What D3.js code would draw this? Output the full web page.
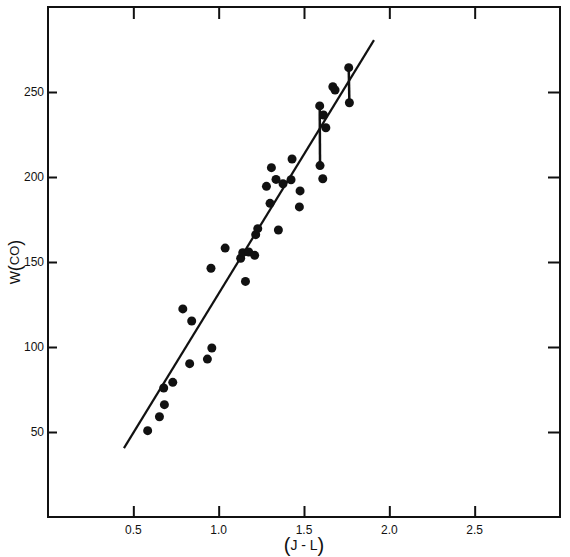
<!DOCTYPE html>
<html>
<head>
<meta charset="utf-8">
<script src="https://cdn.jsdelivr.net/npm/d3@7"></script>
<style>
  body { margin: 0; background: #fff; }
  svg { display: block; font-family: "Liberation Sans", "DejaVu Sans", sans-serif; }
  .tick-label { font-size: 12px; fill: #111; }
</style>
</head>
<body>
<div id="chart"></div>
<script>
// (J-L) colour index vs W(CO)
const jl = [0.584, 0.653, 0.682, 0.678, 0.731, 0.83, 0.842, 0.79, 0.934, 0.96,
            0.955, 1.038, 1.157, 1.129, 1.141, 1.176, 1.211, 1.217, 1.229, 1.35,
            1.301, 1.28, 1.309, 1.336, 1.377, 1.424, 1.43, 1.477, 1.473, 1.594,
            1.61, 1.592, 1.614, 1.628, 1.669, 1.682, 1.762, 1.766];
const wco = [50.8, 59, 66.1, 75.9, 79.2, 90.2, 115.3, 122.4, 92.9, 99.4,
             146.3, 158.2, 138.6, 152.2, 155.5, 155.9, 153.9, 166.1, 169.6, 168.8,
             184.5, 194.5, 205.5, 198.6, 196, 198.4, 210.6, 191.8, 182.4, 206.7,
             199, 241.8, 236.5, 229, 253.1, 251.2, 264.3, 243.7];

// pairs of measurements of the same star joined by a bar (indices)
const pairs = [[29, 31], [36, 37]];

// fitted line end points
const fitX = [0.445, 1.91];
const fitY = [40.5, 280.5];

const xTicks = [0.5, 1.0, 1.5, 2.0, 2.5];
const yTicks = [50, 100, 150, 200, 250];

const W = 570, H = 557;
const margin = { top: 7, right: 10, bottom: 40, left: 48 };
const width = W - margin.left - margin.right;
const height = H - margin.top - margin.bottom;

const svg = d3.select("#chart").append("svg")
    .attr("width", W)
    .attr("height", H);

const g = svg.append("g")
    .attr("transform", "translate(" + margin.left + "," + margin.top + ")");

const xScale = d3.scaleLinear().domain([0, 3.0]).range([0, width]);
const yScale = d3.scaleLinear().domain([0, 300]).range([height, 0]);

// frame
g.append("rect")
    .attr("width", width)
    .attr("height", height)
    .attr("fill", "none")
    .attr("stroke", "#111")
    .attr("stroke-width", 2);

// inward ticks on all four sides
g.append("g").attr("transform", "translate(0," + height + ")")
    .call(d3.axisBottom(xScale).tickValues(xTicks).tickSizeInner(-11).tickSizeOuter(0).tickFormat(""));
g.append("g")
    .call(d3.axisTop(xScale).tickValues(xTicks).tickSizeInner(-12).tickSizeOuter(0).tickFormat(""));
g.append("g")
    .call(d3.axisLeft(yScale).tickValues(yTicks).tickSizeInner(-9).tickSizeOuter(0).tickFormat(""));
g.append("g").attr("transform", "translate(" + width + ",0)")
    .call(d3.axisRight(yScale).tickValues(yTicks).tickSizeInner(-12).tickSizeOuter(0).tickFormat(""));

g.selectAll(".domain").remove();
g.selectAll(".tick line").attr("stroke", "#111").attr("stroke-width", 2);

// tick labels
g.selectAll(".xlab")
    .data(xTicks)
    .enter().append("text")
    .attr("class", "tick-label")
    .attr("x", d => xScale(d))
    .attr("y", height + 17)
    .attr("text-anchor", "middle")
    .text(d => d.toFixed(1));

g.selectAll(".ylab")
    .data(yTicks)
    .enter().append("text")
    .attr("class", "tick-label")
    .attr("x", -4)
    .attr("y", d => yScale(d) + 4)
    .attr("text-anchor", "end")
    .text(d => d);

// fitted line
g.append("line")
    .attr("x1", xScale(fitX[0]))
    .attr("y1", yScale(fitY[0]))
    .attr("x2", xScale(fitX[1]))
    .attr("y2", yScale(fitY[1]))
    .attr("stroke", "#111")
    .attr("stroke-width", 2.2);

// bars joining pairs
g.selectAll(".pair")
    .data(pairs)
    .enter().append("line")
    .attr("x1", d => xScale(jl[d[0]]))
    .attr("y1", d => yScale(wco[d[0]]))
    .attr("x2", d => xScale(jl[d[1]]))
    .attr("y2", d => yScale(wco[d[1]]))
    .attr("stroke", "#111")
    .attr("stroke-width", 2.5);

// points
g.selectAll(".dot")
    .data(jl)
    .enter().append("circle")
    .attr("class", "dot")
    .attr("cx", d => xScale(d))
    .attr("cy", (d, i) => yScale(wco[i]))
    .attr("r", 4.5)
    .attr("fill", "#111");

// x axis label  (J-L)
const xl = svg.append("text")
    .attr("x", margin.left + xScale(1.5))
    .attr("y", H - 5)
    .attr("text-anchor", "middle")
    .attr("fill", "#111");
xl.append("tspan").attr("font-size", "20px").attr("dy", 0).text("(");
xl.append("tspan").attr("font-size", "14px").attr("dy", -2).text("J - L");
xl.append("tspan").attr("font-size", "20px").attr("dy", 2).text(")");

// y axis label  W(CO)
const yl = svg.append("text")
    .attr("transform", "translate(20," + (margin.top + yScale(150)) + ") rotate(-90)")
    .attr("text-anchor", "middle")
    .attr("fill", "#111");
yl.append("tspan").attr("font-size", "14px").text("W");
yl.append("tspan").attr("font-size", "18px").attr("dy", 1).text("(");
yl.append("tspan").attr("font-size", "13px").attr("dy", -2).text("CO");
yl.append("tspan").attr("font-size", "18px").attr("dy", 2).text(")");
</script>
</body>
</html>
